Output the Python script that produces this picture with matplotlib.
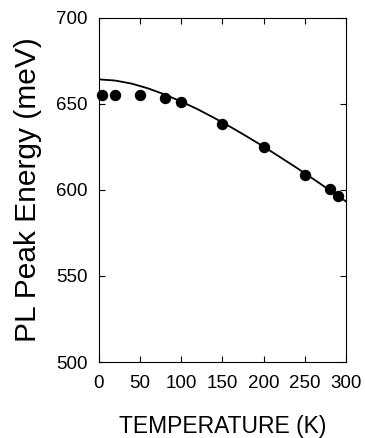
import matplotlib
matplotlib.use("Agg")
import matplotlib.pyplot as plt

plt.rcParams["font.family"] = ["Liberation Sans", "DejaVu Sans"]

# measured PL peak positions
temp_K = [4, 20, 50, 80, 100, 150, 200, 250, 280, 290]
peak_meV = [655.5, 655.5, 655.0, 653.5, 651.0, 638.5, 625.0, 609.0, 600.5, 596.5]

# fitted band-gap curve, sampled every 20 K
fit_T = [0, 20, 40, 60, 80, 100, 120, 140, 160, 180, 200, 220, 240, 260, 280, 300]
fit_E = [664.3, 663.6, 661.8, 659.0, 655.5, 651.4, 646.9, 641.9, 636.6, 631.0,
         625.2, 619.1, 612.9, 606.5, 599.9, 593.3]

x_ticks = [0, 50, 100, 150, 200, 250, 300]
y_ticks = [500, 550, 600, 650, 700]

fig = plt.figure(figsize=(3.65, 4.38), dpi=100)
ax = fig.add_axes([0.271, 0.1735, 0.677, 0.7855])

ax.plot(fit_T, fit_E, color="black", lw=1.3, zorder=2)
ax.plot(temp_K, peak_meV, "o", color="black", ms=7.2, zorder=3, clip_on=False)

ax.set_xlim(0, 300)
ax.set_ylim(500, 700)
ax.set_xticks(x_ticks)
ax.set_yticks(y_ticks)
ax.tick_params(direction="in", length=4.5, width=0.8, top=True, right=True,
               labelsize=13.5)
ax.tick_params(axis="x", pad=9)
ax.tick_params(axis="y", pad=8)
for s in ax.spines.values():
    s.set_linewidth(0.8)

ax.set_xlabel("TEMPERATURE (K)", fontsize=16.5, labelpad=17)
ax.set_ylabel("PL Peak Energy (meV)", fontsize=21.5, labelpad=10)

fig.savefig("out.png", dpi=100)
